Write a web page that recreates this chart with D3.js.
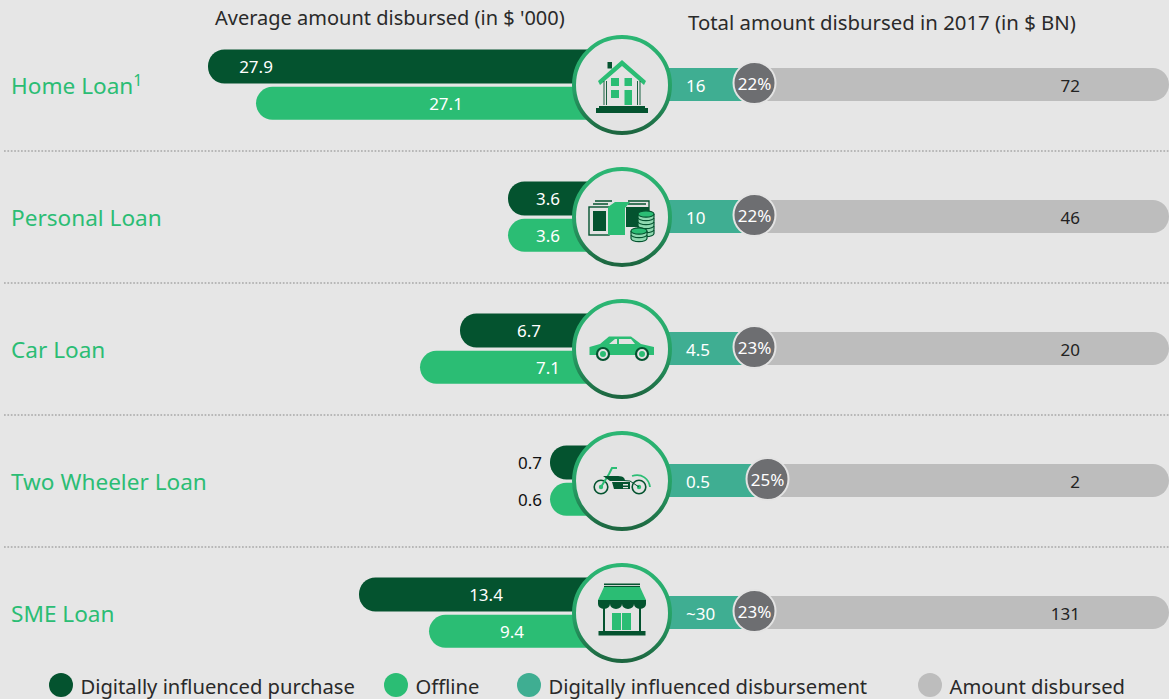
<!DOCTYPE html>
<html><head><meta charset="utf-8">
<script src="https://cdnjs.cloudflare.com/ajax/libs/d3/7.8.5/d3.min.js"></script>
<style>html,body{margin:0;padding:0;background:#e6e6e6}svg{display:block}text{font-family:"Noto Sans",sans-serif}</style>
</head><body><svg id="c" width="1169" height="699"></svg>
<script>
const categories = ["Home Loan","Personal Loan","Car Loan","Two Wheeler Loan","SME Loan"];
const digitalPurchase = [27.9,3.6,6.7,0.7,13.4];
const offline = [27.1,3.6,7.1,0.6,9.4];
const digitalDisbursement = [16,10,4.5,0.5,30];
const digitalDisbursementLabels = ["16","10","4.5","0.5","~30"];
const digitalShare = ["22%","22%","23%","25%","23%"];
const amountDisbursed = [72,46,20,2,131];
const legendLabels = ["Digitally influenced purchase","Offline","Digitally influenced disbursement","Amount disbursed"];

const C={dark:"#04532f",green:"#2bbd74",teal:"#3fae92",grey:"#bdbdbd",badge:"#6d6e71",bg:"#e6e6e6",disc:"#e3e3e3"};
const svg=d3.select("#c");
svg.append("rect").attr("width",1169).attr("height",699).attr("fill",C.bg);
const defs=svg.append("defs");
const g=defs.append("linearGradient").attr("id","ring").attr("x1",0).attr("y1",0).attr("x2",0).attr("y2",1);
g.append("stop").attr("offset","0%").attr("stop-color","#2bb673");
g.append("stop").attr("offset","55%").attr("stop-color","#26a066");
g.append("stop").attr("offset","100%").attr("stop-color","#1d6640");

// The source graphic's bars are schematic, so the scales are piecewise.
const y=d3.scalePoint().domain(categories).range([85,613]);
const barStart=d3.scaleLinear().domain([0.6,0.7,3.6,6.7,7.1,9.4,13.4,27.1,27.9]).range([550,550,508,460,420,429,359,256,208]);
const labelX=d3.scaleLinear().domain([0.6,0.7,3.6,6.7,7.1,9.4,13.4,27.1,27.9]).range([530,530,548,529,548,512,486,446,256]);
const badgeX=d3.scaleLinear().domain([0.5,4.5,30]).range([768,755,755]);
const hub=622,rightEnd=1169;

// separators
svg.selectAll("line.sep").data(categories.slice(0,-1)).join("line").attr("class","sep")
 .attr("x1",4).attr("x2",1169).attr("y1",d=>y(d)+66).attr("y2",d=>y(d)+66)
 .attr("stroke","#a8a8a8").attr("stroke-width",1.6).attr("stroke-dasharray","1.7 1.7");

function txt(x,yy,s,size,fill,anchor){return svg.append("text").attr("x",x).attr("y",yy).attr("font-size",size).attr("fill",fill).attr("text-anchor",anchor||"start").text(s)}
txt(215,25,"Average amount disbursed (in $ '000)",20,"#2a2a2a");
txt(688,30,"Total amount disbursed in 2017 (in $ BN)",20.35,"#2a2a2a");

categories.forEach((c,i)=>{
  const t=txt(11,y(c)+9,c,22.6,C.green);
  if(i==0)t.append("tspan").attr("dy",-8).attr("font-size",16).text("1");
});

const rows=categories.map((c,i)=>({c,i}));
const H=33;
svg.selectAll("rect.dig").data(rows).join("rect").attr("x",d=>barStart(digitalPurchase[d.i])).attr("y",d=>y(d.c)-35.5).attr("width",d=>hub-barStart(digitalPurchase[d.i])).attr("height",H+1).attr("rx",16.5).attr("fill",C.dark);
svg.selectAll("rect.off").data(rows).join("rect").attr("x",d=>barStart(offline[d.i])).attr("y",d=>y(d.c)+1.8).attr("width",d=>hub-barStart(offline[d.i])).attr("height",H).attr("rx",16.5).attr("fill",C.green);
svg.selectAll("rect.amt").data(rows).join("rect").attr("x",d=>badgeX(digitalDisbursement[d.i])-10).attr("y",d=>y(d.c)-17).attr("width",d=>rightEnd-badgeX(digitalDisbursement[d.i])+10).attr("height",H).attr("rx",16.5).attr("fill",C.grey);
svg.selectAll("rect.tl").data(rows).join("rect").attr("x",hub).attr("y",d=>y(d.c)-17).attr("width",d=>badgeX(digitalDisbursement[d.i])-hub).attr("height",H).attr("fill",C.teal);

const small=v=>v<1;
rows.forEach(d=>{
  const cy=y(d.c);
  const a=digitalPurchase[d.i],b=offline[d.i];
  txt(labelX(a),cy-12,a.toFixed(1),17,small(a)?"#111":"#fff","middle");
  txt(labelX(b),cy+25,b.toFixed(1),17,small(b)?"#111":"#fff","middle");
  txt(686,cy+7,digitalDisbursementLabels[d.i],17,"#fff");
  txt(1080,cy+7,amountDisbursed[d.i],17,"#222","end");
  const bx=badgeX(digitalDisbursement[d.i])-0.5;
  svg.append("circle").attr("cx",bx).attr("cy",cy-2).attr("r",21).attr("fill",C.badge).attr("stroke","#e3e3e3").attr("stroke-width",2);
  txt(bx,cy+4.5,digitalShare[d.i],17,"#fff","middle");
  svg.append("circle").attr("cx",hub).attr("cy",cy).attr("r",48).attr("fill",C.disc).attr("stroke","url(#ring)").attr("stroke-width",4);
});

const P=(s,d,f,st,w)=>s.append("path").attr("d",d).attr("fill",f||"none").attr("stroke",st||"none").attr("stroke-width",w||0);
const R=(s,x,yy,w,h,f,st,sw)=>s.append("rect").attr("x",x).attr("y",yy).attr("width",w).attr("height",h).attr("fill",f||"none").attr("stroke",st||"none").attr("stroke-width",sw||0);
const O=(s,x,yy,r,f,st,sw)=>s.append("circle").attr("cx",x).attr("cy",yy).attr("r",r).attr("fill",f||"none").attr("stroke",st||"none").attr("stroke-width",sw||0);
const icons=[
 s=>{ R(s,-14.5,-23,4.5,6.5,C.dark);
  P(s,"M0,-25L24,-4L22,0L0,-19L-22,0L-24,-4Z",C.green);
  P(s,"M-18,-4V20M18,-4V20M-15.5,-4V20M15.5,-4V20",null,C.dark,0.9);
  R(s,-11,-7,8,8,C.green);R(s,2.5,-7,7.5,8,C.green);R(s,-11,5,8,8,C.green);R(s,2.5,5,7.5,15,C.green);
  R(s,-23,21,46,3,C.dark);R(s,-26,23,52,5,C.dark);
 },
 s=>{ P(s,"M-29,-13H-14M-27,-16H-10M6,-16H27V-5M6,-13H24",null,C.dark,1.3);
  R(s,-33,-10,20,28,"none",C.dark,1.4);R(s,-29,-6,13,20,C.dark);
  R(s,4,-10,23,20,C.dark);
  P(s,"M-14,-10L-7,-15H8L3,-9V18H-14Z",C.green);
  const coin=(x,t,n,rx)=>{for(let k=n-1;k>=0;k--){P(s,`M${x-rx},${t+k*4}v3.5a${rx},3.2 0 0 0 ${2*rx},0v-3.5`,"#8fd8b0",C.dark,1.2);}
    s.append("ellipse").attr("cx",x).attr("cy",t).attr("rx",rx).attr("ry",3.2).attr("fill",C.green).attr("stroke",C.dark).attr("stroke-width",1.2)};
  coin(24,-3,5,8);coin(17,14,2,8);
 },
 s=>{ P(s,"M-32.5,-2L-22,-5L-13,-12.5H9L19,-5L32,-2V6H-32.5Z",C.green);
  P(s,"M-13,-5L-7,-10H-5V-5ZM-3,-10H9L13,-5H-3Z",C.disc);
  [-19,20].forEach(x=>{O(s,x,5,6,C.disc,C.dark,2.2);O(s,x,5,3,C.green)});
 },
 s=>{ [-21,17].forEach(x=>{O(s,x,6,6.8,C.disc,C.dark,1.6);O(s,x,6,2.2,C.green)});
  P(s,"M-21,6L-13,-7L-10,-13H-5",null,C.green,2);
  P(s,"M-19,-5H-4C2,-5 3,-2 3,0H-12Z",C.dark);
  P(s,"M-10,1H8V8H-8Z",C.dark);
  R(s,1,3,5,1.5,C.disc);R(s,1,6,5,1.2,C.disc);
  P(s,"M10,-5C20,-8 27,-2 28,6",null,C.green,1.8);
  P(s,"M-5,-1L8,0L17,6",null,C.dark,1);
 },
 s=>{ R(s,-18,-29.5,36,1.6,C.dark);R(s,-18,-27,36,1,C.dark);
  P(s,"M-18,-26H18L24,-13H-24Z",C.green);
  let sc="M-24,-13H24V-9";
  [18,6,-6,-18].forEach(x=>{sc+=`A6,5 0 0 1 ${x-6},-9`});sc+="Z";
  P(s,sc,C.dark);
  R(s,-19,-6,2,24,C.dark);R(s,17,-6,2,24,C.dark);
  R(s,-10,0,9,17,C.green);R(s,0,0,9,17,C.green);
  R(s,-23.5,18,47,4.5,C.dark);
 }
];
rows.forEach(d=>icons[d.i](svg.append("g").attr("transform",`translate(${hub},${y(d.c)})`)));

const legendX=d3.scaleOrdinal().domain(legendLabels).range([61,396,529,930]);
const legendC=d3.scaleOrdinal().domain(legendLabels).range([C.dark,C.green,C.teal,C.grey]);
legendLabels.forEach(l=>{
  svg.append("circle").attr("cx",legendX(l)).attr("cy",685).attr("r",12).attr("fill",legendC(l));
  txt(legendX(l)+19.5,694,l,20.2,"#2a2a2a");
});
</script></body></html>
